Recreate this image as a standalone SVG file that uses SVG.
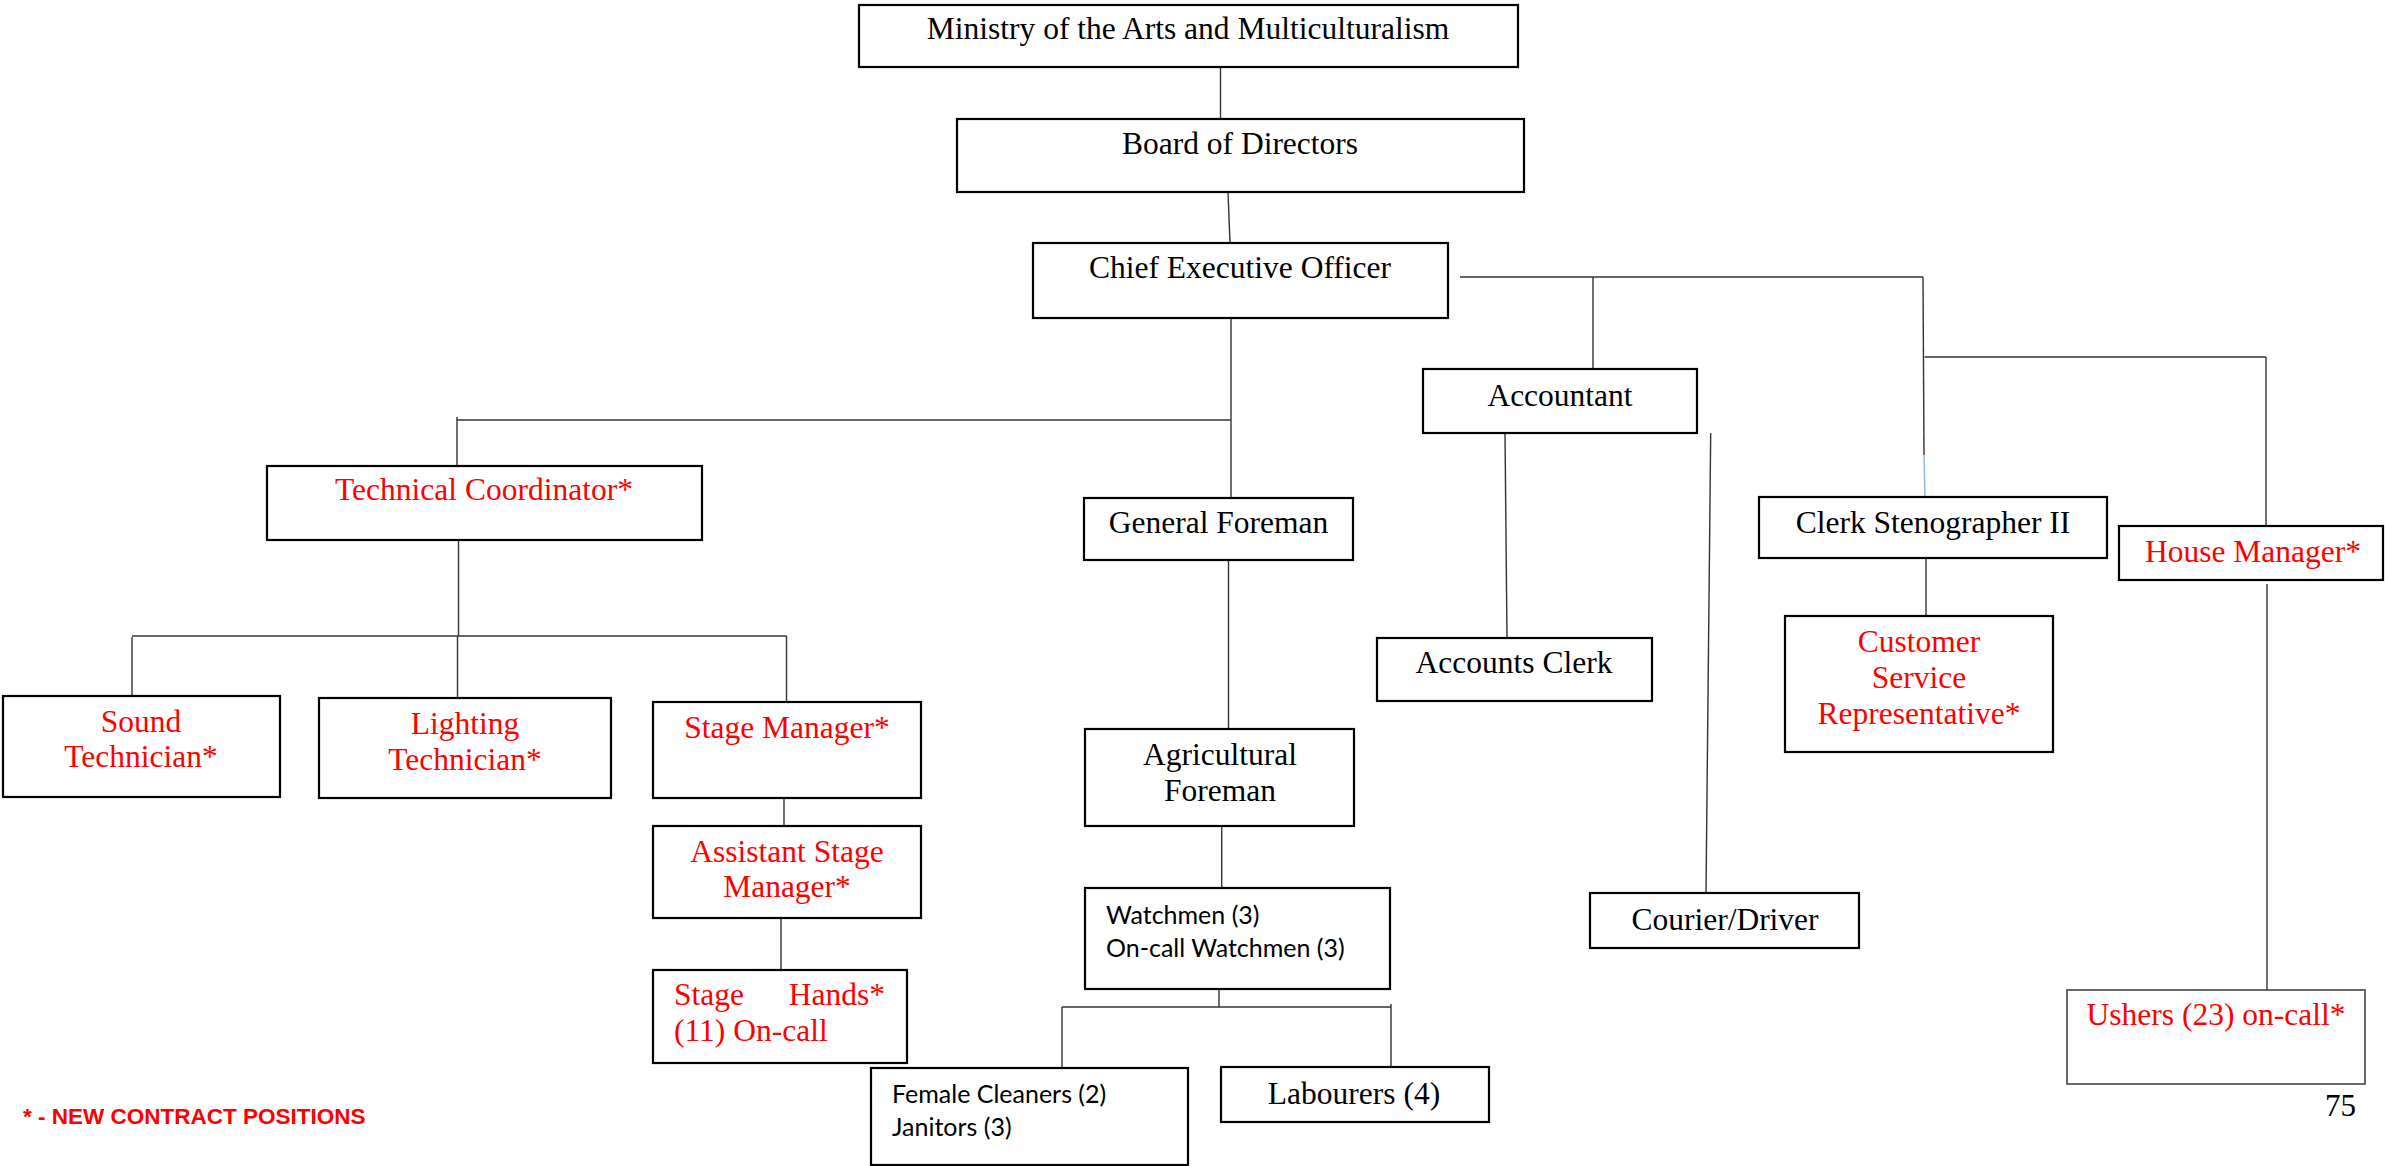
<svg xmlns="http://www.w3.org/2000/svg" width="2385" height="1166" viewBox="0 0 2385 1166">
<style>
.box{fill:#fff;stroke:#000;stroke-width:2.2}
.thin{fill:#fff;stroke:#444;stroke-width:1.6}
.t{font-family:"Liberation Serif","Times New Roman",serif;font-size:31.5px;fill:#000;text-anchor:middle}
.st{text-anchor:start}
.en{text-anchor:end}
.r{fill:#ff0000}
.s{font-family:Lato,"Liberation Sans",Arial,sans-serif;font-size:25px;fill:#000}
.c{fill:none;stroke:#333;stroke-width:1.4}
.lg{font-family:"Liberation Sans",Arial,sans-serif;font-size:22.5px;font-weight:bold;fill:#ff0000}
.pg{font-family:"Liberation Serif","Times New Roman",serif;font-size:31px;fill:#000;text-anchor:end}
</style>
<rect width="2385" height="1166" fill="#fff"/>
<g id="connectors">
<path class="c" d="M1220.5 67V119"/>
<path class="c" d="M1228 192L1230 243"/>
<path class="c" d="M1231 318V498"/>
<path class="c" d="M457 420H1231"/>
<path class="c" d="M457 417V466"/>
<path class="c" d="M458.5 528V636"/>
<path class="c" d="M132 636H786.5"/>
<path class="c" d="M132 637V696"/>
<path class="c" d="M457.5 636V698"/>
<path class="c" d="M786.5 636V702"/>
<path class="c" d="M784 798V826"/>
<path class="c" d="M781 918V970"/>
<path class="c" d="M1228.5 560V729"/>
<path class="c" d="M1221.7 826V888"/>
<path class="c" d="M1219 989V1007"/>
<path class="c" d="M1062 1007H1391"/>
<path class="c" d="M1062 1007V1068"/>
<path class="c" d="M1391 1004V1067"/>
<path class="c" d="M1460 277H1923"/>
<path class="c" d="M1593 277V369"/>
<path class="c" d="M1923 277L1924 455"/>
<path d="M1924 455L1925 497" fill="none" stroke="#8fb4de" stroke-width="1.4"/>
<path class="c" d="M1924.5 357H2266"/>
<path class="c" d="M2266 357V526"/>
<path class="c" d="M1505 433L1507 638"/>
<path class="c" d="M1710.7 433L1706 893"/>
<path class="c" d="M1926 558V616"/>
<path class="c" d="M2267 584V990"/>
</g>
<g id="ministry"><rect class="box" x="859" y="5" width="659" height="62"/><text class="t" x="1188" y="39">Ministry of the Arts and Multiculturalism</text></g>
<g id="board"><rect class="box" x="957" y="119" width="567" height="73"/><text class="t" x="1240" y="154">Board of Directors</text></g>
<g id="ceo"><rect class="box" x="1033" y="243" width="415" height="75"/><text class="t" x="1240" y="278">Chief Executive Officer</text></g>
<g id="accountant"><rect class="box" x="1423" y="369" width="274" height="64"/><text class="t" x="1560" y="406">Accountant</text></g>
<g id="clerk-steno"><rect class="box" x="1759" y="497" width="348" height="61"/><text class="t" x="1933" y="533">Clerk Stenographer II</text></g>
<g id="house-manager"><rect class="box" x="2119" y="526" width="264" height="54"/><text class="t r" x="2253" y="562">House Manager*</text></g>
<g id="tech-coord"><rect class="box" x="267" y="466" width="435" height="74"/><text class="t r" x="484" y="500">Technical Coordinator*</text></g>
<g id="sound"><rect class="box" x="3" y="696" width="277" height="101"/><text class="t r" x="141" y="732">Sound</text><text class="t r" x="141" y="767">Technician*</text></g>
<g id="lighting"><rect class="box" x="319" y="698" width="292" height="100"/><text class="t r" x="465" y="734">Lighting</text><text class="t r" x="465" y="770">Technician*</text></g>
<g id="stage-manager"><rect class="box" x="653" y="702" width="268" height="96"/><text class="t r" x="787" y="738">Stage Manager*</text></g>
<g id="asst-stage-manager"><rect class="box" x="653" y="826" width="268" height="92"/><text class="t r" x="787" y="862">Assistant Stage</text><text class="t r" x="787" y="897">Manager*</text></g>
<g id="stage-hands"><rect class="box" x="653" y="970" width="254" height="93"/><text class="t r st" x="674" y="1005">Stage</text><text class="t r en" x="885" y="1005">Hands*</text><text class="t r st" x="674" y="1041">(11) On-call</text></g>
<g id="general-foreman"><rect class="box" x="1084" y="498" width="269" height="62"/><text class="t" x="1218.5" y="533">General Foreman</text></g>
<g id="agri-foreman"><rect class="box" x="1085" y="729" width="269" height="97"/><text class="t" x="1220" y="765">Agricultural</text><text class="t" x="1220" y="801">Foreman</text></g>
<g id="watchmen"><rect class="box" x="1085" y="888" width="305" height="101"/><text class="s" x="1106" y="924">Watchmen (3)</text><text class="s" x="1106" y="957">On-call Watchmen (3)</text></g>
<g id="female-cleaners"><rect class="box" x="871" y="1068" width="317" height="97"/><text class="s" x="892" y="1103">Female Cleaners (2)</text><text class="s" x="892" y="1136">Janitors (3)</text></g>
<g id="labourers"><rect class="box" x="1221" y="1067" width="268" height="55"/><text class="t" x="1354" y="1104">Labourers (4)</text></g>
<g id="accounts-clerk"><rect class="box" x="1377" y="638" width="275" height="63"/><text class="t" x="1514" y="673">Accounts Clerk</text></g>
<g id="courier"><rect class="box" x="1590" y="893" width="269" height="55"/><text class="t" x="1725" y="930">Courier/Driver</text></g>
<g id="customer-service"><rect class="box" x="1785" y="616" width="268" height="136"/><text class="t r" x="1919" y="652">Customer</text><text class="t r" x="1919" y="688">Service</text><text class="t r" x="1919" y="724">Representative*</text></g>
<g id="ushers"><rect class="thin" x="2067" y="990" width="298" height="94"/><text class="t r" x="2216" y="1025">Ushers (23) on-call*</text></g>
<text class="lg" x="23" y="1124">* - NEW CONTRACT POSITIONS</text>
<text class="pg" x="2356" y="1116">75</text>
</svg>
